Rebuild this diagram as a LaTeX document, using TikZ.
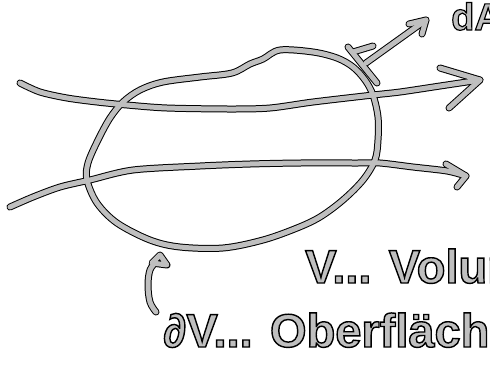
\documentclass[tikz,border=0pt]{standalone}
\usepackage{fontspec}
\setmainfont{Liberation Sans}
\newfontfamily\inkfont[FakeBold=3]{Liberation Sans Bold}
\usetikzlibrary{positioning, calc}
\tikzset{
  penout/.style={line width=7pt, draw=black, line cap=round, line join=round},
  penin/.style={line width=5pt, draw=gray!50, line cap=round, line join=round},
  inktext/.style={anchor=base west, inner sep=0pt, font=\inkfont\fontsize{47}{47}\selectfont},
}
% gray letters with a black rim
\newcommand{\inked}[1]{{\color{gray!50}\special{pdf:literal direct 0 G}#1}}
% all strokes of the sketch, drawn once per layer
\newcommand{\sketchstrokes}{
  % volume
  \draw[pen] plot[smooth cycle, tension=0.55] coordinates {(250,64) (263,59) (280,50) (313,52) (337,58) (353,67) (365,80) (373,95) (378,117) (378,140) (375,160) (363,180) (343,200) (320,217) (297,228) (263,240) (223,248) (180,247) (150,240) (117,223) (97,203) (87,180) (88,163) (98,140) (110,118) (123,102) (140,90) (163,82) (200,77) (232,73)};
  % upper flow line
  \draw[pen] plot[smooth, tension=0.5] coordinates {(upstart) (40,92) (67,98) (97,102) (127,105) (167,108) (230,109) (270,108) (313,102) (373,95) (400,92) (440,86) (uptip)};
  \draw[pen] (upbarbA) -- (uptip) -- (upbarbB);
  % lower flow line
  \draw[pen] plot[smooth, tension=0.5] coordinates {(lowstart) (33,197) (60,187) (90,180) (133,170) (200,166) (250,164) (300,163) (357,163) (380,163) (413,167) (447,171) (lowtip)};
  \draw[pen] (lowbarbA) -- (lowtip) -- (lowbarbB);
  % surface element
  \draw[pen] (planeA) -- (planeB);
  \draw[pen] (353,52) -- (373,46);
  \draw[pen] (dabase) -- (datip);
  \draw[pen] (dabarbA) -- (datip) -- (dabarbB);
  % pointer to the surface
  \draw[pen] plot[smooth, tension=0.6] coordinates {(ptrstart) (150,302) (148,285) (150,270) (ptrtip)};
  \draw[pen] (152,263) -- (160,255) -- (167,265) -- cycle;
}
\begin{document}
\begin{tikzpicture}[x=1pt, y=-1pt]
  \useasboundingbox (0,0) rectangle (490,365);
  \coordinate (upstart) at (20,83);
  \coordinate (uptip) at (480,80);
  \coordinate (upbarbA) at (440,68);
  \coordinate (upbarbB) at (449,108);
  \coordinate (lowstart) at (10,207);
  \coordinate (lowtip) at (466,176);
  \coordinate (lowbarbA) at (446,164);
  \coordinate (lowbarbB) at (457,187);
  \coordinate (planeA) at (348,47);
  \coordinate (planeB) at (377,83);
  \coordinate (dabase) at (366,63);
  \coordinate (datip) at (426,20);
  \coordinate (dabarbA) at (409,24);
  \coordinate (dabarbB) at (422,34);
  \coordinate (ptrstart) at (156,312);
  \coordinate (ptrtip) at (156,262);
  \begin{scope}[pen/.style=penout] \sketchstrokes \end{scope}
  \begin{scope}[pen/.style=penin] \sketchstrokes \end{scope}
  \node[inktext, font=\inkfont\fontsize{38}{38}\selectfont] (dA) at (451,30) {\inked{dA}};
  \node[inktext] (vol) at (305,283) {\inked{V... Volumen}};
  \node[inktext] (surf) at (163,347) {\inked{∂V... Oberfläche}};
\end{tikzpicture}
\end{document}
